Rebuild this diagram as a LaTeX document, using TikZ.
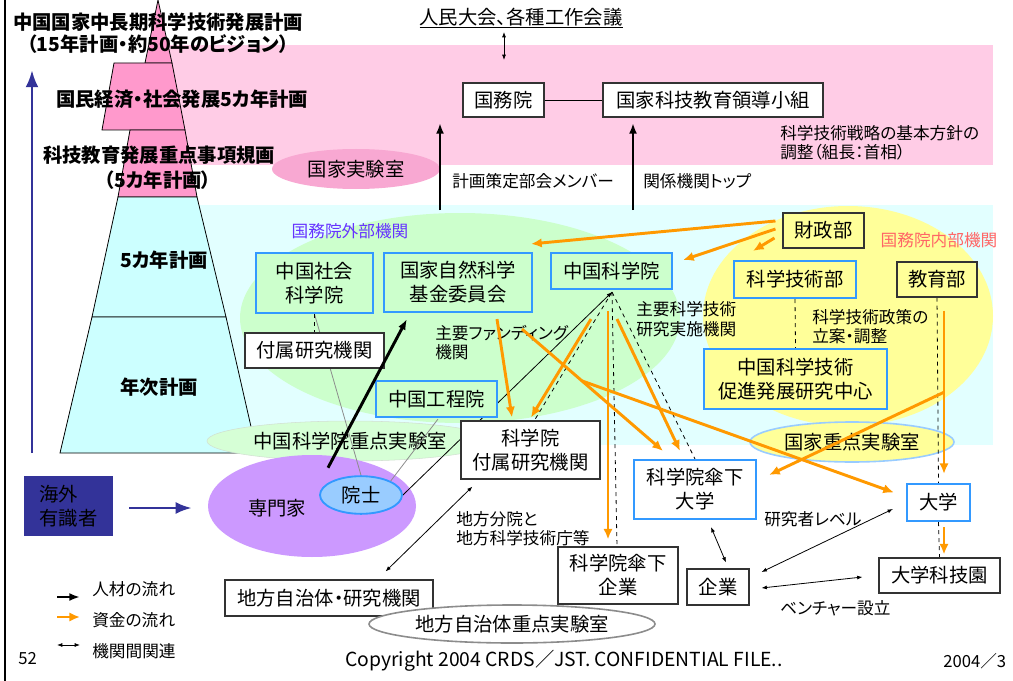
\documentclass[tikz,border=0pt]{standalone}
\usepackage{fontspec}
\setmainfont{Noto Sans CJK JP}[RawFeature=+palt]
\usetikzlibrary{arrows.meta, calc, shapes.geometric}

\definecolor{bgpink}{RGB}{255,204,230}
\definecolor{bgcyan}{RGB}{226,255,255}
\definecolor{pyrpink}{RGB}{255,153,204}
\definecolor{pyrcyan}{RGB}{204,255,255}
\definecolor{extgreen}{RGB}{204,255,204}
\definecolor{intyellow}{RGB}{255,255,153}
\definecolor{boxblue}{RGB}{51,153,255}
\definecolor{fundorange}{RGB}{255,153,0}
\definecolor{navy}{RGB}{51,51,153}
\definecolor{expert}{RGB}{204,153,255}
\definecolor{acad}{RGB}{153,204,255}
\definecolor{labpink}{RGB}{248,168,210}
\definecolor{extlabel}{RGB}{102,51,255}
\definecolor{intlabel}{RGB}{255,102,102}

\pgfdeclarelayer{back}
\pgfdeclarelayer{wires}
\pgfsetlayers{back,wires,main}

\tikzset{
  sz/.style 2 args={minimum width=#1*0.75pt, minimum height=#2*0.75pt},
  plainbox/.style={draw=black!80, fill=white, line width=0.8pt, align=center, inner sep=1pt},
  bluebox/.style={draw=boxblue, line width=1.6pt, align=center, inner sep=1pt},
  note/.style={anchor=west, align=left, inner sep=0pt, font=\fontsize{12.5}{14.5}\selectfont},
  pyr/.style={font=\bfseries\fontsize{14.5}{18}\selectfont, inner sep=0pt},
  fund/.style={-{Latex[length=8pt,width=7pt]}, draw=fundorange, line width=2.2pt},
  people/.style={-{Latex[length=8pt,width=6pt]}, line width=2.2pt},
  link/.style={{Latex[length=4pt,width=3pt]}-{Latex[length=4pt,width=3pt]}, line width=0.6pt},
  tie/.style={dashed, line width=0.6pt},
  weak/.style={draw=black!45, line width=0.6pt},
}

\begin{document}
\begin{tikzpicture}[x=0.75pt, y=-0.75pt, >=Latex, font=\fontsize{14.5}{18}\selectfont]

    \useasboundingbox (0,0) rectangle (1013,681);

    % --- 1. Bands, pyramid and regions ---
    \begin{pgfonlayer}{back}
    \fill[bgpink] (160,45) rectangle (993,165);
    \fill[bgcyan] (160,205) rectangle (993,445);
    \draw[line width=1.8pt] (5,0) -- (5,681);

    \filldraw[fill=pyrpink, draw=black, line width=0.6pt] (158,0) -- (172,63) -- (145,63) -- cycle;
    \filldraw[fill=pyrpink, draw=black, line width=0.6pt] (114,63) -- (172,63) -- (185,130) -- (102,130) -- cycle;
    \filldraw[fill=pyrpink, draw=black, line width=0.6pt] (130,130) -- (185,130) -- (197,197) -- (118,197) -- cycle;
    \filldraw[fill=pyrcyan, draw=black, line width=0.6pt] (118,197) -- (197,197) -- (226,317) -- (92,317) -- cycle;
    \filldraw[fill=pyrcyan, draw=black, line width=0.6pt] (92,317) -- (226,317) -- (257,453) -- (60,453) -- cycle;

    % outer / inner agencies of the State Council
    \fill[extgreen] (460,318) ellipse [x radius=165pt, y radius=78.75pt];
    \fill[intyellow] (848,316) ellipse [x radius=108.75pt, y radius=82.5pt];

    % key laboratories
    \node[ellipse, fill=labpink, sz={168}{40}] (kokkalab) at (356,169) {国家実験室};
    \node[ellipse, fill=extgreen!80!white, draw=extgreen!70!black!40, sz={200}{40}] (caslab) at (350,441) {中国科学院重点実験室};
    \node[ellipse, fill=intyellow, draw=acad, line width=1.2pt, sz={170}{40}] (keylab) at (852,442) {国家重点実験室};
    \node[ellipse, fill=expert, sz={208}{102}] (senmon) at (312,506) {};
    \end{pgfonlayer}

    \draw[->, navy, line width=2.2pt] (32,453) -- (32,70);

    \node[pyr] (plan50) at (158,22) {中国国家中長期科学技術発展計画};
    \node[pyr] (plan50b) at (158,44) {（15年計画・約50年のビジョン）};
    \node[pyr] (plannat) at (182,99) {国民経済・社会発展5カ年計画};
    \node[pyr] (planst) at (159,155) {科技教育発展重点事項規画};
    \node[pyr] (planstb) at (158,180) {（5カ年計画）};
    \node[pyr] (plan5) at (164,260) {5カ年計画};
    \node[pyr] (plan1) at (159,387) {年次計画};

    % --- 2. State Council ---
    \node (jinmin) at (521,18) {\underline{人民大会、各種工作会議}};
    \node[plainbox, sz={81}{34}] (koumuin) at (503.5,100) {国務院};
    \node[plainbox, sz={220}{34}] (kogumi) at (713,100) {国家科技教育領導小組};
    \node[note] (senryaku) at (780,143) {科学技術戦略の基本方針の\\調整（組長：首相）};
    \node[note] (bukai) at (452,181) {計画策定部会メンバー};
    \node[note] (kankei) at (643,181) {関係機関トップ};

    \coordinate (jtop) at (504,32);
    \coordinate (jbot) at (504,60);
    \coordinate (memfoot) at (440,210);
    \coordinate (memhead) at (440,123);
    \coordinate (topfoot) at (633,210);
    \coordinate (tophead) at (633,123);

    % --- 3. Outer agencies ---
    \node[note, anchor=center, extlabel] (gaibu) at (350,231) {国務院外部機関};
    \node[bluebox, fill=extgreen, sz={117}{60}] (shakai) at (314.5,283) {中国社会\\科学院};
    \node[bluebox, fill=extgreen, sz={148}{59}] (shizen) at (458,282.5) {国家自然科学\\基金委員会};
    \node[bluebox, fill=extgreen, sz={121}{36}] (cas) at (611.5,271) {中国科学院};
    \node[plainbox, sz={139}{35}] (fuzoku) at (314.5,350.5) {付属研究機関};
    \node[bluebox, fill=extgreen, sz={121}{36}] (koutei) at (436.5,399) {中国工程院};
    \node[plainbox, sz={139}{58}] (casfz) at (530.5,450) {科学院\\付属研究機関};
    \node[note] (fundlab) at (435,342.5) {主要ファンディング\\機関};
    \node[note] (implab) at (636,319) {主要科学技術\\研究実施機関};

    % --- 4. Inner agencies ---
    \node[note, anchor=center, intlabel] (naibu) at (939,240) {国務院内部機関};
    \node[plainbox, fill=intyellow, sz={81}{35}] (zaisei) at (823.5,230.5) {財政部};
    \node[bluebox, fill=intyellow, sz={122}{37}] (most) at (795,279.5) {科学技術部};
    \node[plainbox, fill=intyellow, sz={80}{35}] (kyoiku) at (937,279.5) {教育部};
    \node[bluebox, fill=intyellow, sz={183}{60}] (casted) at (795.5,379) {中国科学技術\\促進発展研究中心};
    \node[note] (policy) at (812,326.5) {科学技術政策の\\立案・調整};

    % --- 5. Lower level ---
    \node[bluebox, fill=white, sz={122}{59}] (casuniv) at (695,489.5) {科学院傘下\\大学};
    \node[plainbox, sz={120}{57}] (casent) at (618,575.5) {科学院傘下\\企業};
    \node[plainbox, sz={62}{36}] (kigyo) at (718,587) {企業};
    \node[bluebox, fill=white, sz={63}{37}] (univ) at (938.5,502.5) {大学};
    \node[plainbox, sz={121}{35}] (unipark) at (939.5,575.5) {大学科技園};
    \node[plainbox, sz={208}{36}] (chiho) at (329,598) {地方自治体・研究機関};
    \node[ellipse, draw=black!45, line width=1.2pt, fill=white, sz={240}{38}] (chiholab) at (512,624) {地方自治体重点実験室};
    \node[note] (bunin) at (456,528.5) {地方分院と\\地方科学技術庁等};
    \node[note] (kenkyusha) at (764,519) {研究者レベル};
    \node[note] (venture) at (780,608) {ベンチャー設立};

    \node[fill=navy, align=left, sz={89}{60}] (kaigai) at (68.5,506) {海外\\有識者};
    \node (senmontext) at (277,508) {専門家};
    \node[ellipse, fill=acad, draw=boxblue, line width=1.4pt, sz={82}{37}] (inshi) at (361,495) {院士};

    % --- 6. Relations ---
    \begin{pgfonlayer}{wires}
    \draw[weak] (shakai.south) -- (inshi.north);
    \draw[weak] ($(koutei.south)+(1.5,1)$) -- (inshi.north east);
    \draw[tie] (shakai.south) -- (fuzoku.north);
    \draw[{Latex[length=4pt,width=3pt]}-, line width=0.6pt] ($(cas.south)+(0.5,2)$) -- (inshi.east);
    \draw[tie] ($(cas.south)+(0.5,2)$) -- ($(casfz.north)+(4.5,-1)$);
    \draw[tie] ($(cas.south)+(0.5,2)$) -- ($(casent.north)+(-1,0)$);
    \draw[tie] ($(cas.south)+(0.5,2)$) -- (casuniv.north);
    \draw[tie] (most.south) -- (casted.north);
    \draw[tie] (kyoiku.south) -- (univ.north);
    \draw[tie] (univ.south) -- (unipark.north);
    \end{pgfonlayer}

    \draw[line width=0.6pt] (koumuin) -- (kogumi);
    \draw[link] (jtop) -- (jbot);
    \draw[people] (memfoot) -- (memhead);
    \draw[people] (topfoot) -- (tophead);
    \draw[people] ($(senmon.north)+(16,13)$) -- ($(shizen.south west)+(24,6)$);
    \draw[->, navy, line width=2pt] ($(kaigai.east)+(16,2)$) -- ($(senmon.west)+(-16,2)$);

    % funding flows
    \draw[fund] ($(zaisei.west)+(-7,-9.5)$) -- ($(shizen.north east)+(-2,-8)$);
    \draw[fund] ($(zaisei.west)+(-7,-1.5)$) -- ($(cas.east)+(10,-11)$);
    \draw[fund] ($(zaisei.west)+(-8,7.5)$) -- ($(most.north)+(-42,-9)$);
    \draw[fund] ($(kyoiku.south)+(7,13)$) -- coordinate[pos=0.5] (edubranch) ($(univ.north)+(5.5,-9)$);
    \draw[fund] (edubranch) -- ($(casuniv.north east)+(12,16)$);
    \draw[fund] ($(univ.south)+(5.5,5)$) -- ($(unipark.north)+(4.5,-3)$);
    \draw[fund] ($(shizen.south)+(39,6)$) -- ($(casfz.north)+(-18.5,-3)$);
    \draw[fund] ($(shizen.south)+(64,16)$) -- coordinate[pos=0.4255] (fundsplit) ($(casuniv.north)+(-32,-8)$);
    \draw[fund] (fundsplit) -- ($(univ.west)+(-12,-10)$);
    \draw[fund] ($(cas.south)+(-20.5,29)$) -- ($(casfz.north)+(0.5,-3)$);
    \draw[fund] ($(cas.south)+(-3.5,21)$) -- ($(casent.north)+(-10,-7)$);
    \draw[fund] ($(cas.south)+(5.5,29)$) -- ($(casuniv.north)+(-15,-8)$);

    % links between bodies
    \draw[link] ($(chiho.north east)+(-48,-8)$) -- ($(casfz.south west)+(12,7)$);
    \draw[link] ($(casuniv.south)+(16,7)$) -- ($(kigyo.north)+(8,-6)$);
    \draw[link] ($(kigyo.east)+(12,-15)$) -- ($(univ.west)+(-13,6.5)$);
    \draw[link] ($(kigyo.east)+(12,1)$) -- ($(unipark.west)+(-16,1.5)$);

    % --- 7. Legend and footer ---
    \draw[people] (57,597) -- (80,597);
    \draw[fund] (57,617) -- (80,617);
    \draw[link] (57,645) -- (80,645);
    \node[note] (lgpeople) at (92,589) {人材の流れ};
    \node[note] (lgfund) at (92,620) {資金の流れ};
    \node[note] (lglink) at (92,651) {機関間関連};

    \node[note] (pageno) at (18,659) {52};
    \node[note, font=\fontsize{14.5}{18}\selectfont] (copyr) at (345,661) {Copyright 2004 CRDS／JST. CONFIDENTIAL FILE..};
    \node[note] (date) at (943,661) {2004／3};

\end{tikzpicture}
\end{document}
